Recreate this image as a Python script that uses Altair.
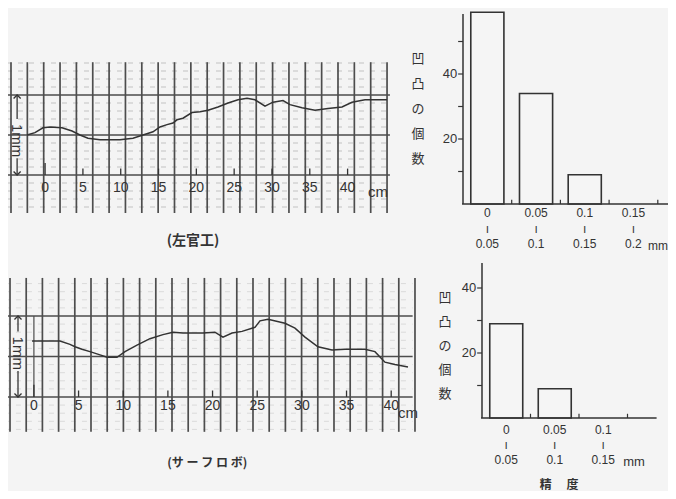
import altair as alt
import pandas as pd

# ---------------- data ----------------
# upper profile (左官工): position along the wall [cm] / surface height [mm]
plaster_cm = [-2.39, -1.34, -0.28, 0.65, 2.23, 3.56, 4.61, 5.67, 7.26, 9.90,
              11.62, 12.94, 14.27, 15.19, 16.12, 16.91, 17.44, 18.23, 19.42, 20.48,
              21.54, 22.86, 24.19, 25.51, 26.70, 27.75, 29.08, 30.13, 31.46, 32.38,
              33.97, 35.69, 37.41, 39.26, 40.58, 42.30, 45.20]
plaster_mm = [0.50, 0.53, 0.59, 0.60, 0.59, 0.55, 0.50, 0.46, 0.44, 0.44,
              0.46, 0.50, 0.54, 0.60, 0.63, 0.65, 0.69, 0.71, 0.78, 0.79,
              0.81, 0.85, 0.90, 0.94, 0.96, 0.94, 0.86, 0.91, 0.93, 0.88,
              0.84, 0.81, 0.83, 0.85, 0.91, 0.94, 0.94]

# lower profile (サーフロボ)
robot_cm = [-0.21, 2.92, 4.04, 4.60, 5.38, 6.28, 7.40, 8.18, 9.30, 10.20,
            11.54, 12.99, 14.45, 15.57, 16.69, 18.93, 20.26, 21.17, 22.18, 23.30,
            24.75, 25.31, 26.21, 28.11, 29.23, 30.35, 31.80, 33.37, 34.83, 37.06,
            38.18, 39.30, 40.42, 41.88]
robot_mm = [0.69, 0.69, 0.65, 0.62, 0.59, 0.56, 0.52, 0.49, 0.49, 0.56,
            0.64, 0.72, 0.77, 0.80, 0.79, 0.79, 0.80, 0.74, 0.79, 0.81,
            0.86, 0.94, 0.96, 0.91, 0.85, 0.74, 0.62, 0.58, 0.59, 0.59,
            0.56, 0.43, 0.40, 0.37]

# histograms: number of unevenness (凹凸の個数) per precision class (精度, mm)
plaster_lo = ["0", "0.05", "0.1", "0.15"]
plaster_hi = ["0.05", "0.1", "0.15", "0.2"]
plaster_counts = [59, 34, 9, 0]
robot_lo = ["0", "0.05", "0.1"]
robot_hi = ["0.05", "0.1", "0.15"]
robot_counts = [29, 9, 0]

cm_ticks = [0, 5, 10, 15, 20, 25, 30, 35, 40]
count_ticks = [10, 20, 30, 40, 50]
count_labels = [20, 40]

# ---------------- styling ----------------
INK = "#333333"
GRID = "#4d4d4d"
FAINT = "#c2c2c2"
FONT = "Liberation Sans"
JFONT = "Noto Sans CJK JP"


def sc(domain, rng):
    return alt.Scale(domain=domain, range=rng, nice=False, zero=False)


def qx(f, s):
    return alt.X(f, type="quantitative", scale=s, axis=None)


def qy(f, s):
    return alt.Y(f, type="quantitative", scale=s, axis=None)


def profile(xs, ys, X, Y, grid_start, grid_step, grid_n, gy0, gy1, hx0, hx1,
            arrow_x, mm_y, caption, cap_x, cap_y, cap_size, lab_dy, cm_x, cm_dy,
            dash_color, box=False):
    layers = []
    dash_vals = [-0.4, -0.3, -0.2, -0.1, 0.1, 0.2, 0.3, 0.4, 0.6, 0.7, 0.8, 0.9,
                 1.1, 1.2, 1.3, 1.4]
    d = pd.DataFrame({"y": dash_vals, "x0": hx0, "x1": hx1})
    layers.append(alt.Chart(d).mark_rule(color=dash_color, strokeWidth=1,
                                         strokeDash=[5, 6]).encode(
        x=qx("x0", X), x2="x1", y=qy("y", Y)))
    g = pd.DataFrame({"x": [grid_start + grid_step * i for i in range(grid_n)],
                      "y0": gy0, "y1": gy1})
    layers.append(alt.Chart(g).mark_rule(color=GRID, strokeWidth=1.7).encode(
        x=qx("x", X), y=qy("y0", Y), y2="y1"))
    h = pd.DataFrame({"y": [0, 0.5, 1.0], "x0": hx0, "x1": hx1})
    layers.append(alt.Chart(h).mark_rule(color=GRID, strokeWidth=1.4).encode(
        x=qx("x0", X), x2="x1", y=qy("y", Y)))
    if box:
        b = pd.DataFrame({"x": [0], "y0": [0], "y1": [1]})
        layers.append(alt.Chart(b).mark_rule(color=GRID, strokeWidth=1.2).encode(
            x=qx("x", X), y=qy("y0", Y), y2="y1"))
    t = pd.DataFrame({"x": cm_ticks, "y0": 0,
                      "y1": [0.15 if v == 0 else 0.08 for v in cm_ticks],
                      "t": [str(v) for v in cm_ticks]})
    layers.append(alt.Chart(t).mark_rule(color=INK, strokeWidth=1.3).encode(
        x=qx("x", X), y=qy("y0", Y), y2="y1"))
    layers.append(alt.Chart(t).mark_text(font=FONT, fontSize=14, color=INK,
                                         dy=lab_dy, baseline="alphabetic").encode(
        x=qx("x", X), y=qy("y0", Y), text="t"))
    c = pd.DataFrame({"x": [cm_x], "y": [0], "t": ["cm"]})
    layers.append(alt.Chart(c).mark_text(font=FONT, fontSize=15, color=INK, align="left",
                                         dy=cm_dy, baseline="alphabetic").encode(
        x=qx("x", X), y=qy("y", Y), text="t"))
    # profile
    p = pd.DataFrame({"x": xs, "y": ys})
    layers.append(alt.Chart(p).mark_line(color=INK, strokeWidth=1.5).encode(
        x=qx("x", X), y=qy("y", Y)))
    # 1mm arrow
    a = pd.DataFrame({"x": [arrow_x, arrow_x], "y0": [mm_y + 0.27, 0],
                      "y1": [1.0, mm_y - 0.22]})
    layers.append(alt.Chart(a).mark_rule(color=INK, strokeWidth=1.3).encode(
        x=qx("x", X), y=qy("y0", Y), y2="y1"))
    up = pd.DataFrame({"x": [arrow_x], "y": [1.0]})
    dn = pd.DataFrame({"x": [arrow_x], "y": [0.0]})
    layers.append(alt.Chart(up).mark_point(shape="M-1,1L0,0L1,1", filled=False,
                                           color=INK, strokeWidth=1.3, size=50,
                                           opacity=1).encode(
        x=qx("x", X), y=qy("y", Y)))
    layers.append(alt.Chart(dn).mark_point(shape="M-1,-1L0,0L1,-1", filled=False,
                                           color=INK, strokeWidth=1.3, size=50,
                                           opacity=1).encode(
        x=qx("x", X), y=qy("y", Y)))
    m = pd.DataFrame({"x": [arrow_x], "y": [mm_y], "t": ["1mm"]})
    layers.append(alt.Chart(m).mark_text(font=FONT, fontSize=15, color=INK, angle=90,
                                         baseline="middle").encode(
        x=qx("x", X), y=qy("y", Y), text="t"))
    cp = pd.DataFrame({"x": [cap_x], "y": [cap_y], "t": [caption]})
    layers.append(alt.Chart(cp).mark_text(font=JFONT, fontSize=cap_size, color=INK,
                                          fontWeight="bold", baseline="middle").encode(
        x=qx("x", X), y=qy("y", Y), text="t"))
    return alt.layer(*layers)


def histogram(lo, hi, counts, X, Y, ytop, xend, lab_dy, lh, mm_x, mm_size, title_x,
              title_y, title_lh, bottom_title=False):
    n = len(counts)
    layers = []
    bars = pd.DataFrame({"i": list(range(n)), "c": counts,
                         "lab": [a + "\nı\n" + b for a, b in zip(lo, hi)]})
    bars = bars.assign(x0=bars["i"] + 0.16, x1=bars["i"] + 0.84,
                       xc=bars["i"] + 0.5, z=0)
    layers.append(alt.Chart(bars[bars["c"] > 0]).mark_rect(
        fill="#f5f5f5", stroke=INK, strokeWidth=1.6).encode(
        x=qx("x0", X), x2="x1", y=qy("z", Y), y2="c"))
    ax = pd.DataFrame({"x0": [0, -0.02], "x1": [0, xend], "y0": [0, 0], "y1": [ytop, 0]})
    layers.append(alt.Chart(ax).mark_rule(color=INK, strokeWidth=1.5).encode(
        x=qx("x0", X), x2="x1", y=qy("y0", Y), y2="y1"))
    yt = pd.DataFrame({"v": [v for v in count_ticks if v < ytop], "x0": -0.1, "x1": 0})
    layers.append(alt.Chart(yt).mark_rule(color=INK, strokeWidth=1.2).encode(
        x=qx("x0", X), x2="x1", y=qy("v", Y)))
    yl = pd.DataFrame({"v": count_labels, "x": -0.1, "t": [str(v) for v in count_labels]})
    layers.append(alt.Chart(yl).mark_text(font=FONT, fontSize=13, color=INK, align="right",
                                          baseline="middle", dx=-1).encode(
        x=qx("x", X), y=qy("v", Y), text="t"))
    xt = pd.DataFrame({"x": list(range(1, n + 1)), "y0": 0, "y1": 1.3})
    layers.append(alt.Chart(xt).mark_rule(color=INK, strokeWidth=1.2).encode(
        x=qx("x", X), y=qy("y0", Y), y2="y1"))
    layers.append(alt.Chart(bars).mark_text(font=FONT, fontSize=12, color=INK,
                                            lineBreak="\n", lineHeight=lh,
                                            baseline="alphabetic", dy=lab_dy).encode(
        x=qx("xc", X), y=qy("z", Y), text="lab"))
    mm = pd.DataFrame({"x": [mm_x], "y": [0], "t": ["mm"]})
    layers.append(alt.Chart(mm).mark_text(font=FONT, fontSize=mm_size, color=INK,
                                          align="left", baseline="alphabetic",
                                          dy=lab_dy + 2 * lh + 2).encode(
        x=qx("x", X), y=qy("y", Y), text="t"))
    tt = pd.DataFrame({"x": [title_x], "y": [title_y], "t": ["凹\n凸\nの\n個\n数"]})
    layers.append(alt.Chart(tt).mark_text(font=JFONT, fontSize=13, color=INK,
                                          lineBreak="\n", lineHeight=title_lh,
                                          baseline="alphabetic").encode(
        x=qx("x", X), y=qy("y", Y), text="t"))
    if bottom_title:
        bt = pd.DataFrame({"x": [1.59], "y": [0], "t": ["精　 度"]})
        layers.append(alt.Chart(bt).mark_text(font=JFONT, fontSize=12, color=INK,
                                              fontWeight="bold", baseline="alphabetic",
                                              dy=71).encode(
            x=qx("x", X), y=qy("y", Y), text="t"))
    return alt.layer(*layers)


# scales (pixel ranges place each panel on the page)
X1 = sc([0, 40], [37.1, 339.6]); Y1 = sc([0, 1], [167, 87])
X2 = sc([0, 40], [25.9, 383.2]); Y2 = sc([0, 1], [389, 308])
X3 = sc([0, 4], [455, 649.8]);   Y3 = sc([0, 60], [196, 1])
X4 = sc([0, 3], [474, 619.5]);   Y4 = sc([0, 40], [410, 280])

p1 = profile(plaster_cm, plaster_mm, X1, Y1, -4.51, 2.162, 24, -0.475, 1.41,
             -5.04, 45.6, -3.7, 0.43, "(左官工)", 19.56, -0.825, 14, 17, 42.7, 22,
             FAINT)
p2 = profile(robot_cm, robot_mm, X2, Y2, -2.675, 1.8135, 26, -0.43, 1.47,
             -3.24, 42.4, -1.78, 0.54, "(サ ー フ ロ ボ)", 19.4, -0.815, 12, 13, 40.76, 21,
             "#dadada", box=True)
h1 = histogram(plaster_lo, plaster_hi, plaster_counts, X3, Y3, 58.5, 4.4, 13, 15.5,
               3.8, 12, -0.924, 43.4, 25)
h2 = histogram(robot_lo, robot_hi, robot_counts, X4, Y4, 47.7, 3.6, 16, 15,
               2.91, 13, -0.763, 35.7, 24, bottom_title=True)

chart = alt.layer(p1, p2, h1, h2).resolve_scale(
    x="independent", y="independent"
).properties(
    width=660, height=483, padding=0,
    autosize=alt.AutoSizeParams(type="none"),
    background="#f4f4f4",
).configure_view(stroke=None)

chart.save("out.html", embed_options={"renderer": "svg", "actions": False})
